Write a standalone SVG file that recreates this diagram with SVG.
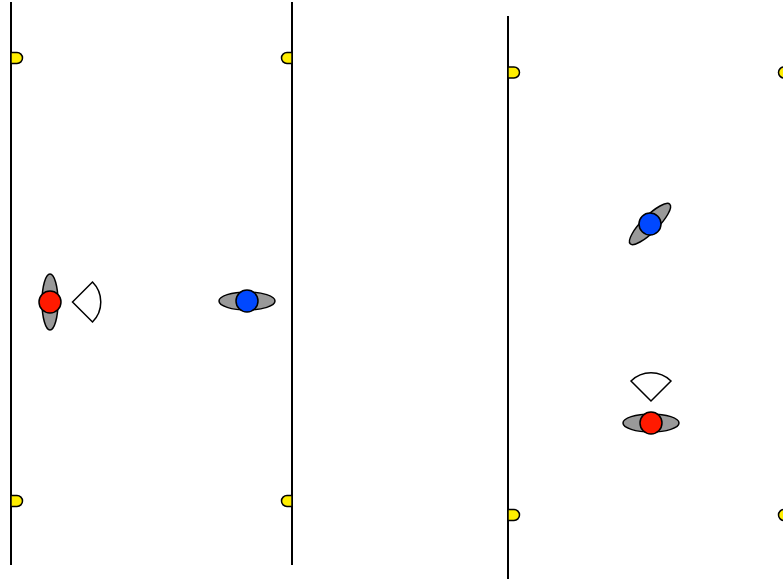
<svg xmlns="http://www.w3.org/2000/svg" width="783" height="581" viewBox="0 0 783 581">
<style>
.line{stroke:#000;stroke-width:2;fill:none}
.post{fill:#ffee00;stroke:#000;stroke-width:1.5}
.body{fill:#999;stroke:#000;stroke-width:1.5}
.red{fill:#ff1a00;stroke:#000;stroke-width:1.5}
.blue{fill:#0048ff;stroke:#000;stroke-width:1.5}
.cone{fill:#fff;stroke:#000;stroke-width:1.5}
</style>
<rect width="783" height="581" fill="#fff"/>
<g id="panel-left">
  <line class="line" x1="11" y1="2" x2="11" y2="565"/>
  <line class="line" x1="292" y1="2" x2="292" y2="565"/>
  <path class="post" d="M11,52.5 H17 A5.5,5.5 0 0 1 22.5,58 A5.5,5.5 0 0 1 17,63.5 H11 Z"/>
  <path class="post" d="M11,495.5 H17 A5.5,5.5 0 0 1 22.5,501 A5.5,5.5 0 0 1 17,506.5 H11 Z"/>
  <path class="post" d="M292,52.5 H287 A5.5,5.5 0 0 0 281.5,58 A5.5,5.5 0 0 0 287,63.5 H292 Z"/>
  <path class="post" d="M292,495.5 H287 A5.5,5.5 0 0 0 281.5,501 A5.5,5.5 0 0 0 287,506.5 H292 Z"/>
</g>
<g id="player-red-left">
  <ellipse class="body" cx="50" cy="302" rx="8" ry="28"/>
  <circle class="red" cx="50" cy="302" r="11"/>
  <path class="cone" d="M72.5,302 L92.5,282 A28.3,28.3 0 0 1 92.5,322 Z"/>
</g>
<g id="player-blue-left">
  <ellipse class="body" cx="247" cy="301" rx="28" ry="9"/>
  <circle class="blue" cx="247" cy="301" r="11"/>
</g>
<g id="panel-right">
  <line class="line" x1="508" y1="16" x2="508" y2="579"/>
  <path class="post" d="M508,67 H514 A5.5,5.5 0 0 1 519.5,72.5 A5.5,5.5 0 0 1 514,78 H508 Z"/>
  <path class="post" d="M508,509.5 H514 A5.5,5.5 0 0 1 519.5,515 A5.5,5.5 0 0 1 514,520.5 H508 Z"/>
  <path class="post" d="M789,67 H784 A5.5,5.5 0 0 0 778.5,72.5 A5.5,5.5 0 0 0 784,78 H789 Z"/>
  <path class="post" d="M789,509.5 H784 A5.5,5.5 0 0 0 778.5,515 A5.5,5.5 0 0 0 784,520.5 H789 Z"/>
</g>
<g id="player-blue-right">
  <ellipse class="body" cx="650" cy="224" rx="28" ry="8" transform="rotate(-45 650 224)"/>
  <circle class="blue" cx="650" cy="224" r="11"/>
</g>
<g id="player-red-right">
  <ellipse class="body" cx="651" cy="423" rx="28" ry="9"/>
  <circle class="red" cx="651" cy="423" r="11"/>
  <path class="cone" d="M651,401 L631,381 A28.3,28.3 0 0 1 671,381 Z"/>
</g>
<g id="connectors"></g>
</svg>
